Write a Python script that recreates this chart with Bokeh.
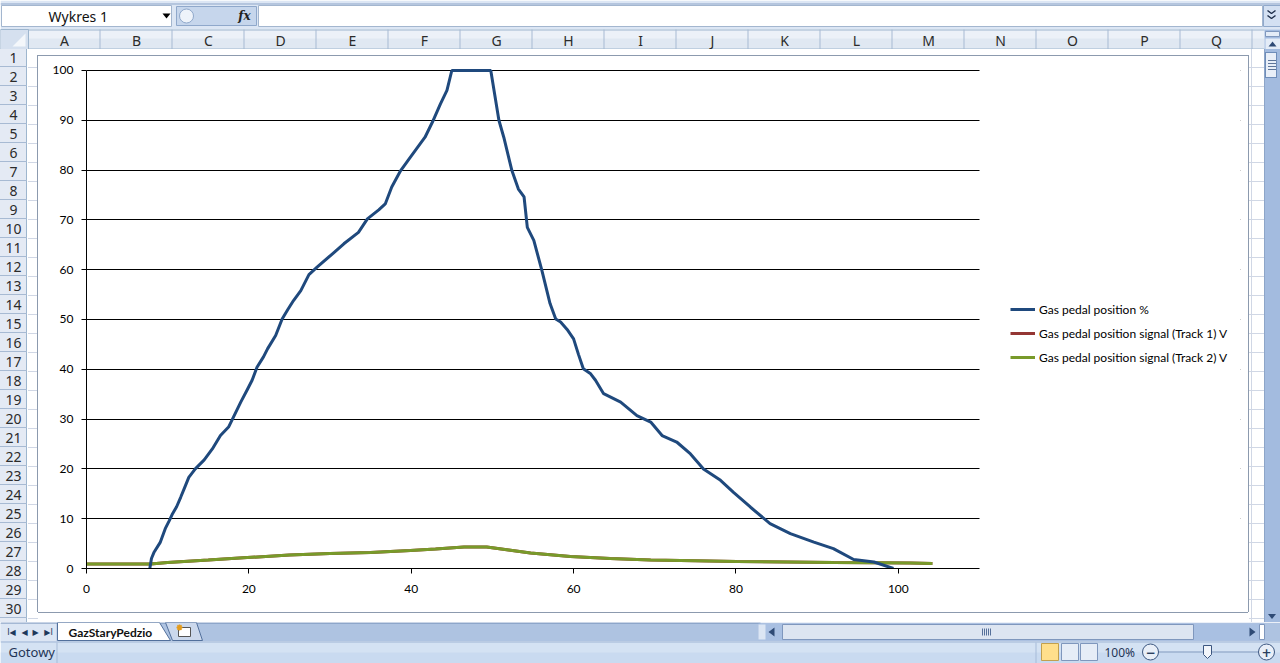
from bokeh.plotting import figure
from bokeh.models import Range1d, FixedTicker, Legend, LegendItem, BoxAnnotation, Div
from bokeh.layouts import column, row
from bokeh.embed import file_html
from bokeh.resources import INLINE
from bokeh.core.properties import value

# ---------------- data ----------------
pos_x = [7.8, 8.0, 8.3, 9.1, 9.7, 10.2, 10.6, 11.1, 11.6, 12.1, 12.6, 13.4, 14.5, 15.5,
         16.5, 17.5, 18.1, 19.0, 19.8, 20.4, 21.0, 21.8, 22.3, 23.3, 24.1, 24.8, 25.5,
         26.4, 27.4, 28.4, 30.3, 31.7, 33.5, 34.6, 36.0, 36.8, 37.6, 38.7, 39.9, 40.8,
         41.7, 42.6, 43.6, 44.4, 45.0, 49.8, 50.8, 51.4, 52.4, 53.2, 53.9, 54.3, 55.1,
         56.1, 57.1, 57.8, 58.4, 59.2, 60.0, 60.6, 61.2, 62.1, 62.7, 63.7, 65.8, 67.8,
         69.5, 70.9, 72.7, 74.4, 76.0, 78.1, 79.7, 81.8, 84.2, 86.7, 89.6, 92.0, 94.5,
         97.0, 99.4]
pos_pct = [0.0, 2.0, 3.2, 5.3, 8.0, 9.6, 11.0, 12.4, 14.3, 16.3, 18.3, 20.0, 21.8, 24.0,
           26.7, 28.4, 30.4, 33.4, 35.9, 37.8, 40.4, 42.5, 44.1, 46.8, 50.1, 52.0, 53.8,
           55.8, 59.0, 60.5, 63.2, 65.2, 67.5, 70.2, 72.0, 73.2, 76.6, 79.9, 82.6, 84.6,
           86.6, 89.6, 93.3, 96.0, 100.0, 100.0, 90.0, 86.6, 79.9, 76.2, 74.6, 68.5, 65.9,
           59.8, 53.2, 50.1, 49.5, 48.0, 46.1, 43.0, 40.1, 39.1, 37.8, 35.1, 33.4, 30.7,
           29.4, 26.7, 25.4, 23.0, 20.0, 17.7, 15.3, 12.3, 9.0, 7.0, 5.3, 4.0, 1.8,
           1.3, 0.0]
sig_x = [0.0, 7.9, 10.0, 15.0, 19.8, 25.0, 30.0, 35.0, 39.9, 43.0, 46.5, 49.3, 52.0,
         54.7, 59.6, 64.5, 69.5, 75.0, 80.1, 86.3, 92.0, 97.0, 101.5, 104.2]
track2_v = [0.9, 0.9, 1.2, 1.7, 2.2, 2.7, 3.0, 3.2, 3.6, 3.9, 4.3, 4.3, 3.7,
            3.1, 2.4, 2.0, 1.7, 1.55, 1.4, 1.3, 1.2, 1.15, 1.1, 1.0]
track1_v = list(track2_v)  # hidden exactly under track 2 in the reference

x_ticks = [0, 20, 40, 60, 80, 100]
y_ticks = [0, 10, 20, 30, 40, 50, 60, 70, 80, 90, 100]
x_axis_end = 110
series_names = ["Gas pedal position %",
                "Gas pedal position signal (Track 1) V",
                "Gas pedal position signal (Track 2) V"]
series_colors = ["#1F497D", "#943634", "#789A2A"]

col_letters = list("ABCDEFGHIJKLMNOPQ")
row_numbers = list(range(1, 31))
name_box = "Wykres 1"
sheet_name = "GazStaryPedzio"
status_text = "Gotowy"
zoom_text = "100%"

CHART_FONT = "Lato"
UI_FONT = "Noto Sans"

# ---------------- chart ----------------
FRAME_W = 1210 - 48 - 8          # plot area reaches into the legend zone
PX_PER_X = 893 / x_axis_end      # 0..110 spans 893 px in the reference
chart_border_css = ("linear-gradient(to bottom, #FFFFFF 0px, #FFFFFF 6px, #8C9AAE 6px, "
                    "#8C9AAE 7px, #FFFFFF 7px, #FFFFFF 563px, #8C9AAE 563px, #8C9AAE 564px, "
                    "#FFFFFF 564px, #FFFFFF 573px)")
p = figure(width=1210, height=573,
           x_range=Range1d(0, FRAME_W / PX_PER_X), y_range=Range1d(0, 100.6),
           output_backend="svg", toolbar_location=None,
           min_border_left=48, min_border_right=8, min_border_top=18, min_border_bottom=54,
           outline_line_color=None, background_fill_color="white",
           border_fill_color="white", border_fill_alpha=0.0,
           styles={"background": chart_border_css})

xt = FixedTicker(ticks=x_ticks)
yt = FixedTicker(ticks=y_ticks)
p.xaxis.ticker = xt
p.yaxis.ticker = yt
p.ygrid.ticker = yt
p.yaxis.bounds = (0, 100)
p.xaxis.bounds = (0, x_axis_end)
p.xgrid.visible = False
p.ygrid.grid_line_color = "black"
p.ygrid.grid_line_width = 1
# blank the legend zone to the right of the plot area
p.add_layout(BoxAnnotation(left=x_axis_end, fill_color="white", fill_alpha=1.0,
                           line_alpha=0, level="underlay"))

r_t1 = p.line(sig_x, track1_v, line_color=series_colors[1], line_width=3)
r_t2 = p.line(sig_x, track2_v, line_color=series_colors[2], line_width=3)
r_pos = p.line(pos_x, pos_pct, line_color=series_colors[0], line_width=3)

for ax in (p.xaxis, p.yaxis):
    ax.axis_line_color = "black"
    ax.axis_line_width = 1
    ax.major_tick_line_color = "black"
    ax.major_tick_out = 5
    ax.major_tick_in = 0
    ax.minor_tick_line_color = None
    ax.major_label_text_font = CHART_FONT
    ax.major_label_text_font_size = "12px"
    ax.major_label_text_color = "black"
p.xaxis.major_label_standoff = 11
p.yaxis.major_label_standoff = 8

legend = Legend(items=[LegendItem(label=series_names[0], renderers=[r_pos]),
                       LegendItem(label=series_names[1], renderers=[r_t1]),
                       LegendItem(label=series_names[2], renderers=[r_t2])],
                location=(924, 201), border_line_color=None, background_fill_alpha=0,
                glyph_width=25, glyph_height=20, label_height=20, spacing=4,
                padding=0, margin=0, label_standoff=4,
                label_text_font=CHART_FONT, label_text_font_size="12px",
                label_text_color="black")
p.add_layout(legend)


# ---------------- Excel window chrome (top and bottom strips) ----------------
def draw_sheet(f, bx0, bx1, by0, by1):
    def txt(xs, ys, texts, **kw):
        keep = [(x, y, t) for x, y, t in zip(xs, ys, texts)
                if bx0 <= x <= bx1 and by0 + 6 <= y <= by1 - 6]
        if keep:
            f.text(x=[k[0] for k in keep], y=[k[1] for k in keep], text=[k[2] for k in keep],
                   text_baseline="middle", **kw)

    # formula bar
    f.quad(left=0, right=1280, top=0, bottom=29, fill_color="#DCE6F4", line_color=None)
    f.segment(x0=[0], y0=[3.5], x1=[1280], y1=[3.5], line_color="#8DA5C8")
    f.quad(left=1, right=171, top=5, bottom=26, fill_color="white", line_color="#A3B6CF")
    txt([48], [15.5], [name_box], text_font=value(UI_FONT), text_font_size="14px",
        text_color="#111111", text_align="left")
    f.patch(x=[162, 170, 166], y=[13, 13, 18], fill_color="black", line_color=None)
    f.quad(left=176, right=256, top=6, bottom=25, fill_color="#C6D6EC", line_color="#8FA8CB")
    f.scatter(x=[186], y=[15.5], size=14, marker="circle", fill_color="#EEF3FA", line_color="#8FA8CB")
    txt([244], [15.5], ["fx"], text_font=value("DejaVu Serif"), text_font_style="bold italic",
        text_font_size="12px", text_color="#222222", text_align="center")
    f.quad(left=258, right=1262, top=5, bottom=26, fill_color="white", line_color="#A3B6CF")
    f.quad(left=1263, right=1280, top=5, bottom=26, fill_color="#D3E0F2", line_color="#8FA8CB")
    f.multi_line(xs=[[1267, 1271, 1275], [1267, 1271, 1275]], ys=[[10, 13, 10], [15, 18, 15]],
                 line_color="#1F2F4A", line_width=1.5)
    # column header
    f.quad(left=0, right=1264, top=29, bottom=49, fill_color="#E0E8F2", line_color=None)
    f.quad(left=0, right=1264, top=29, bottom=38, fill_color="#ECF1F8", line_color=None)
    f.segment(x0=[0], y0=[29.5], x1=[1264], y1=[29.5], line_color="#9EB6CE")
    bounds = [28 + 72 * k for k in range(19)]
    f.segment(x0=[b - 0.5 for b in bounds], y0=[29] * 19, x1=[b - 0.5 for b in bounds],
              y1=[49] * 19, line_color="#A7BAD3")
    f.segment(x0=[0], y0=[48.5], x1=[1264], y1=[48.5], line_color="#9EB6CE")
    centers = [64 + 72 * k for k in range(len(col_letters))]
    txt(centers, [39.5] * len(centers), col_letters, text_font=value(UI_FONT),
        text_font_size="14px", text_color="#2B2B2B", text_align="center")
    f.quad(left=0, right=28, top=29, bottom=49, fill_color="#D5E0EF", line_color="#9EB6CE")
    f.patch(x=[25, 25, 12], y=[33, 46, 46], fill_color="#F4F7FB", line_color=None)
    # vertical scrollbar (top part)
    f.quad(left=1264, right=1280, top=29, bottom=49, fill_color="#A3BBDF", line_color=None)
    f.quad(left=1265, right=1279, top=31, bottom=36, fill_color="#E4ECF7", line_color="#7F97BD")
    f.quad(left=1265, right=1280, top=38, bottom=49, fill_color="#E4ECF7", line_color=None)
    f.patch(x=[1268, 1276, 1272], y=[46, 46, 41], fill_color="#2E4A75", line_color=None)
    # sheet tab bar
    f.quad(left=0, right=1280, top=622, bottom=641, fill_color="#AEC3E1", line_color=None)
    f.quad(left=0, right=56, top=622, bottom=641, fill_color="#DCE6F4", line_color=None)
    f.segment(x0=[0], y0=[622.5], x1=[760], y1=[622.5], line_color="#6C89B4")
    txt([11, 24, 35, 48], [631.5] * 4, ["I◀", "◀", "▶", "▶I"],
        text_font=value("DejaVu Sans"), text_font_size="8px", text_color="#1E395B",
        text_align="center")
    f.patch(x=[57, 57, 170, 159], y=[622, 640, 640, 622], fill_color="#FFFFFF", line_color="#52709C")
    txt([68], [631.5], [sheet_name], text_font=value(CHART_FONT), text_font_style="bold",
        text_font_size="12px", text_color="#111111", text_align="left")
    f.patch(x=[165, 172, 202, 196], y=[622, 640, 640, 622], fill_color="#CBD8EC", line_color="#52709C")
    f.quad(left=178, right=190, top=627, bottom=636, fill_color="white", line_color="#555555")
    f.scatter(x=[179], y=[627], size=6, marker="asterisk", line_color="#E39B1B", line_width=1.5)
    # horizontal scrollbar
    f.quad(left=758, right=1264, top=623, bottom=640, fill_color="#A9C0E2", line_color=None)
    f.quad(left=758, right=765, top=624, bottom=639, fill_color="#DCE6F4", line_color=None)
    f.patch(x=[774, 774, 768], y=[627, 636, 631.5], fill_color="#2E4A75", line_color=None)
    f.quad(left=782, right=1193, top=624, bottom=639, fill_color="#DDE5F1", line_color="#7F97BD")
    f.segment(x0=[982, 984, 986, 988, 990], y0=[628] * 5, x1=[982, 984, 986, 988, 990],
              y1=[635] * 5, line_color="#56709A")
    f.patch(x=[1249, 1249, 1255], y=[627, 636, 631.5], fill_color="#2E4A75", line_color=None)
    f.quad(left=1259, right=1264, top=624, bottom=639, fill_color="white", line_color="#7F97BD")
    # status bar
    f.quad(left=0, right=1280, top=641, bottom=663, fill_color="#D4E2F3", line_color=None)
    f.quad(left=0, right=1280, top=652, bottom=663, fill_color="#C9DAF0", line_color=None)
    f.segment(x0=[0], y0=[641.5], x1=[1280], y1=[641.5], line_color="#9FB5D5")
    txt([8], [651.5], [status_text], text_font=value(UI_FONT), text_font_size="13px",
        text_color="#1F3556", text_align="left")
    f.segment(x0=[56.5, 1035.5], y0=[642, 642], x1=[56.5, 1035.5], y1=[663, 663],
              line_color="#A6BBD8")
    f.quad(left=1041, right=1058, top=643, bottom=660, fill_color="#FFDF8C", line_color="#C2A04E")
    f.quad(left=[1061, 1080], right=[1078, 1097], top=[643, 643], bottom=[660, 660],
           fill_color="#E6EDF7", line_color="#7F97BD")
    txt([1104], [651.5], [zoom_text], text_font=value(UI_FONT), text_font_size="12px",
        text_color="#1F3556", text_align="left")
    f.segment(x0=[1158], y0=[651.5], x1=[1258], y1=[651.5], line_color="#7F97BD")
    f.scatter(x=[1150, 1266], y=[651.5, 651.5], size=16, marker="circle", fill_color="#E9EFF8",
              line_color="#3B5680")
    txt([1150, 1266], [651.5, 651.5], ["−", "+"], text_font=value("DejaVu Sans"),
        text_font_size="12px", text_font_style="bold", text_color="#2B3F5F",
        text_align="center")
    f.patch(x=[1203, 1211, 1211, 1207, 1203], y=[645, 645, 654, 658, 654],
            fill_color="#F2F5FA", line_color="#3B5680")


def chrome_fig(x0, x1, y0, y1):
    f = figure(width=x1 - x0, height=y1 - y0, x_range=Range1d(x0, x1), y_range=Range1d(y1, y0),
               output_backend="svg", toolbar_location=None, x_axis_type=None, y_axis_type=None,
               min_border=0, outline_line_color=None, background_fill_color="white",
               border_fill_color="white")
    draw_sheet(f, x0, x1, y0, y1)
    return f


# ---------------- side strips (row headers / scrollbar) as HTML ----------------
def abs_div(left, top, width, height, style=""):
    return (f'<div style="position:absolute;left:{left}px;top:{top}px;width:{width}px;'
            f'height:{height}px;{style}"></div>')


left_parts = [abs_div(0, 0, 27, 573, "background:#E4EAF4;border-right:1px solid #9EB6CE;")]
for k in row_numbers:
    t = 19 * (k - 1)
    left_parts.append(f'<div style="position:absolute;left:0px;top:{t}px;width:27px;height:18px;'
                      f'border-bottom:1px solid #A7BAD3;text-align:center;line-height:18px;">{k}</div>')
    left_parts.append(abs_div(28, t + 18, 10, 1, "background:#D0D7E5;"))
left_parts.append(abs_div(37, 6, 1, 557, "background:#8C9AAE;"))
left_html = ('<div style="position:relative;width:38px;height:573px;overflow:hidden;'
             'background:#FFFFFF;font-family:\'Noto Sans\';font-size:14px;color:#2B2B2B;">'
             + "".join(left_parts) + "</div>")

right_parts = [abs_div(0, 6, 1, 557, "background:#8C9AAE;"),
               abs_div(3, 0, 1, 573, "background:#D0D7E5;")]
for k in row_numbers:
    right_parts.append(abs_div(1, 19 * k - 1, 15, 1, "background:#D0D7E5;"))
right_parts.append(abs_div(16, 0, 16, 573, "background:#A3BBDF;border-left:1px solid #8DA5C8;"))
right_parts.append(abs_div(17, 3, 12, 26, "background:#E9EFF8;border:1px solid #6F8DB9;"))
for gy in (11, 14, 17, 20):
    right_parts.append(abs_div(20, gy, 8, 1, "background:#5E7599;"))
right_parts.append('<div style="position:absolute;left:20px;top:565px;width:0;height:0;'
                   'border-left:4px solid transparent;border-right:4px solid transparent;'
                   'border-top:5px solid #2E4A75;"></div>')
right_html = ('<div style="position:relative;width:32px;height:573px;overflow:hidden;'
              'background:#FFFFFF;">' + "".join(right_parts) + "</div>")

left = Div(text=left_html, width=38, height=573, margin=(0, 0, 0, 0))
right = Div(text=right_html, width=32, height=573, margin=(0, 0, 0, 0))

top = chrome_fig(0, 1280, 0, 49)
bottom = chrome_fig(0, 1280, 622, 663)

layout = column(top, row(left, p, right, spacing=0), bottom, spacing=0)

open("out.html", "w").write(file_html(layout, INLINE))
